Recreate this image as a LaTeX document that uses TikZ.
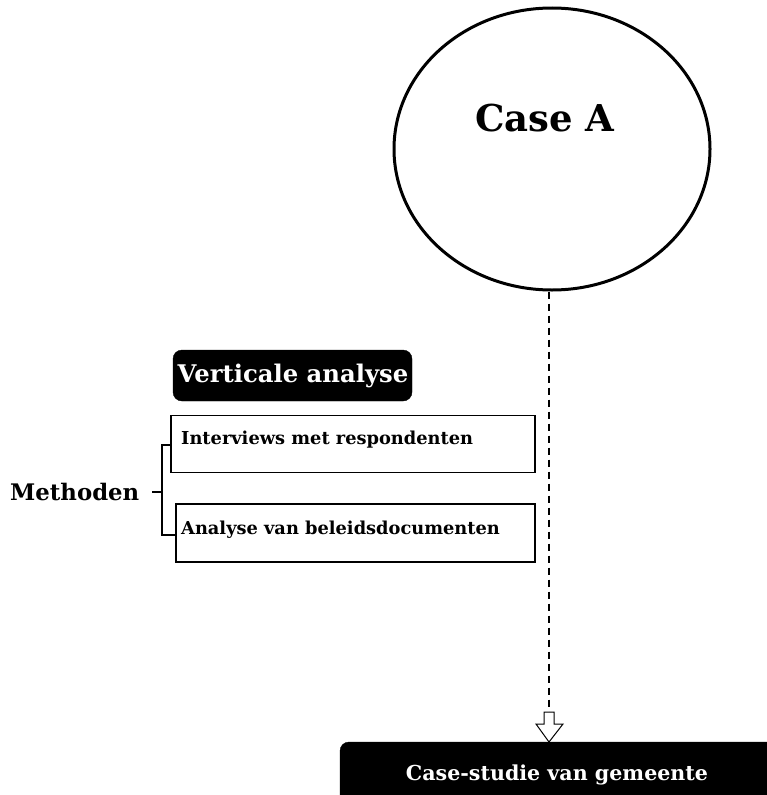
\documentclass[tikz,border=0pt]{standalone}
\usepackage{fontspec}
\setmainfont{DejaVu Serif}
\usetikzlibrary{shapes.geometric}
\begin{document}
\begin{tikzpicture}[x=1pt,y=-1pt,
  lab/.style={font=\bfseries\fontsize{17.8}{20}\selectfont, inner sep=0pt, anchor=west},
  blackbox/.style={fill=black, draw=black, rounded corners=9pt},
  methbox/.style={draw=black, line width=1.5pt, fill=white}]
\useasboundingbox (0,0) rectangle (766,795);
% circle
\node[draw=black, line width=3pt, ellipse, minimum width=316pt, minimum height=282pt, inner sep=0pt] (caseA) at (552,149) {};
\node[font=\bfseries\fontsize{37}{40}\selectfont, inner sep=0pt] (caseAt) at (545,118) {Case A};
% bottom black box
\fill[blackbox] (340,742) rectangle (800,830);
\node[font=\bfseries\fontsize{20.6}{23}\selectfont, text=white, inner sep=0pt] (cs) at (557,775) {Case-studie van gemeente};
\coordinate (cstop) at (549,742);
% dashed connector
\coordinate (dashend) at (549,712);
\draw[line width=1.6pt, dash pattern=on 7pt off 5pt] (caseA.south) ++(-3,0) coordinate (cstart) -- (dashend);
% hollow arrow
\draw[line width=1pt, fill=white] (544,712) -- (554,712) -- (554,724) -- (563,724) -- (cstop) -- (536,724) -- (544,724) -- cycle;
% verticale analyse
\fill[blackbox] (173,350) rectangle (412,401);
\node[font=\bfseries\fontsize{24.3}{27}\selectfont, text=white, inner sep=0pt] (va) at (293,376) {Verticale analyse};
% boxes
\node[methbox, minimum width=364pt, minimum height=57pt, inner sep=0pt] (b1) at (353,444) {};
\node[lab] (t1) at (181,440) {Interviews met respondenten};
\node[methbox, minimum width=359pt, minimum height=58pt, inner sep=0pt] (b2) at (355.5,533) {};
\node[lab] (t2) at (181,530) {Analyse van beleidsdocumenten};
% methoden
\node[font=\bfseries\fontsize{22.8}{25}\selectfont, inner sep=0pt, anchor=west] (meth) at (10,492) {Methoden};
\coordinate (bm) at (162,492);
\coordinate (bt) at (162,445);
\coordinate (bb) at (162,535);
\draw[line width=1.5pt] (bm) ++(-10,0) -- (bm);
\draw[line width=1.5pt] (b1.west |- bt) -- (bt) -- (bb) -- (b2.west |- bb);
\end{tikzpicture}
\end{document}
